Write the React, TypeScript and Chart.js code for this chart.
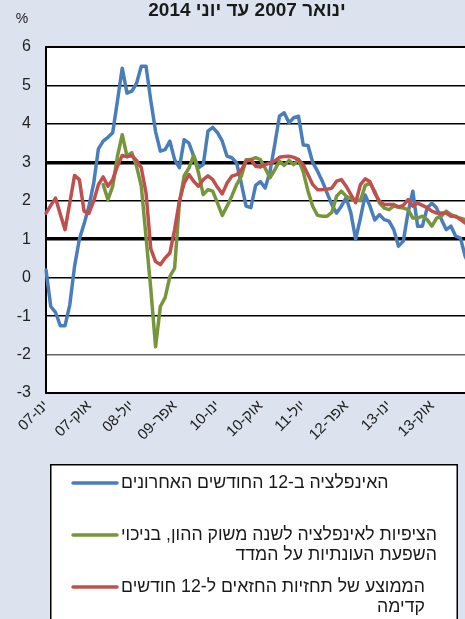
import React, { useEffect, useRef } from "react";
import { Chart, registerables } from "chart.js";

Chart.register(...registerables);

const MONTHS = ["ינו", "פבר", "מרץ", "אפר", "מאי", "יונ", "יול", "אוג", "ספט", "אוק", "נוב", "דצמ"];
const YEARS = ["07", "08", "09", "10", "11", "12", "13", "14"];
const categories: string[] = [];
YEARS.forEach((y) => MONTHS.forEach((m) => categories.push(`${m}-${y}`)));
categories.length = 90; // ינואר 2007 .. יוני 2014

const TITLE = "ינואר 2007 עד יוני 2014";
const UNIT = "%";

const Y_TICKS = [-3, -2, -1, 0, 1, 2, 3, 4, 5, 6];

// 12-month inflation
const inflation: number[] = [
  0.2, -0.75, -0.9, -1.25, -1.25, -0.7, 0.3, 1.0, 1.4, 1.85,
  2.45, 3.35, 3.55, 3.65, 3.77, 4.6, 5.45, 4.8, 4.85, 5.05,
  5.5, 5.5, 4.6, 3.8, 3.29, 3.33, 3.55, 3.07, 2.86, 3.59,
  3.5, 3.16, 2.86, 2.94, 3.81, 3.91, 3.77, 3.55, 3.16, 3.12,
  2.99, 2.45, 1.86, 1.82, 2.4, 2.5, 2.33, 2.75, 3.45, 4.2,
  4.29, 4.03, 4.16, 4.2, 3.45, 3.44, 2.99, 2.77, 2.51, 2.2,
  1.9, 1.68, 1.86, 2.08, 1.68, 1.0, 1.55, 2.15, 1.86, 1.5,
  1.64, 1.51, 1.47, 1.25, 0.82, 0.95, 1.7, 2.25, 1.34, 1.34,
  1.81, 1.94, 1.81, 1.51, 1.25, 1.34, 1.08, 1.03, 0.55, 0.3,
];

// capital-market expectations (seasonally adjusted)
const marketExp: (number | null)[] = [
  null, null, null, null, null, null, null, null, null, null,
  null, null, 2.42, 2.03, 2.38, 3.16, 3.72, 3.16, 3.25, 2.9,
  2.38, 1.05, -0.3, -1.8, -0.75, -0.52, 0.03, 0.25, 1.95, 2.65,
  2.85, 3.18, 2.73, 2.16, 2.29, 2.25, 1.94, 1.62, 1.86, 2.12,
  2.42, 2.64, 3.07, 3.07, 3.12, 3.07, 2.85, 2.6, 2.8, 3.03,
  2.92, 3.05, 2.94, 3.07, 2.75, 2.25, 1.85, 1.62, 1.6, 1.6,
  1.7, 2.12, 2.25, 2.12, 2.05, 2.02, 2.0, 2.4, 2.46, 2.25,
  1.94, 1.81, 1.77, 1.86, 1.83, 1.81, 1.77, 1.55, 1.55, 1.6,
  1.51, 1.34, 1.55, 1.6, 1.73, 1.64, 1.58, 1.55, 1.51, 1.45,
];

// forecasters' average, 12 months ahead
const forecasters: number[] = [
  1.68, 1.88, 2.07, 1.65, 1.25, 1.95, 2.66, 2.55, 1.73, 1.67,
  1.99, 2.42, 2.62, 2.38, 2.55, 2.9, 3.18, 3.14, 3.18, 3.05,
  2.86, 2.2, 0.75, 0.42, 0.34, 0.51, 0.64, 1.25, 1.99, 2.46,
  2.68, 2.51, 2.38, 2.55, 2.65, 2.55, 2.35, 2.18, 2.46, 2.64,
  2.68, 2.8, 3.03, 3.07, 2.9, 2.88, 2.94, 2.98, 3.03, 3.13,
  3.15, 3.16, 3.13, 3.07, 2.94, 2.68, 2.42, 2.29, 2.29, 2.3,
  2.33, 2.51, 2.55, 2.38, 2.16, 1.95, 2.42, 2.57, 2.5, 2.2,
  1.99, 1.9, 1.9, 1.9, 1.84, 1.88, 2.03, 1.86, 1.94, 1.88,
  1.82, 1.73, 1.68, 1.68, 1.68, 1.6, 1.6, 1.51, 1.42, 1.35,
];

const SERIES_NAMES: string[][] = [
  ["האינפלציה ב-12 החודשים האחרונים"],
  ["הציפיות לאינפלציה לשנה משוק ההון, בניכוי", "השפעת העונתיות על המדד"],
  ["הממוצע של תחזיות החזאים ל-12 חודשים", "קדימה"],
];

const BLUE = "#4a7ebb";
const GREEN = "#77963c";
const RED = "#c0504d";
const BG = "#dce3ef";
const FONT = '"Liberation Sans", "DejaVu Sans", Arial, sans-serif';

const decor = {
  id: "decor",
  beforeDraw(chart: any) {
    const { ctx, chartArea: a, width, height } = chart;
    ctx.save();
    ctx.fillStyle = BG;
    ctx.fillRect(0, 0, width, height);
    ctx.fillStyle = "#ffffff";
    ctx.fillRect(a.left, a.top, a.right - a.left, a.bottom - a.top);
    ctx.restore();
  },
  afterDraw(chart: any) {
    const { ctx } = chart;
    ctx.save();
    // title
    ctx.fillStyle = "#1a1a1a";
    ctx.direction = "rtl";
    ctx.textAlign = "center";
    ctx.textBaseline = "alphabetic";
    ctx.font = `bold 19px ${FONT}`;
    ctx.fillText(TITLE, 247, 16);
    // unit
    ctx.font = `14px ${FONT}`;
    ctx.fillStyle = "#222";
    ctx.direction = "ltr";
    ctx.fillText(UNIT, 22, 23);

    // legend box
    ctx.fillStyle = "#ffffff";
    ctx.fillRect(50, 464, 407, 200);
    ctx.strokeStyle = "#000";
    ctx.lineWidth = 1.5;
    ctx.strokeRect(50.75, 464.75, 406.5, 200);

    const colors = [BLUE, GREEN, RED];
    const ys = [483, 535, 587];
    ctx.font = `17.7px ${FONT}`;
    ctx.direction = "rtl";
    ctx.textAlign = "right";
    ctx.textBaseline = "middle";
    SERIES_NAMES.forEach((lines, k) => {
      const y = ys[k];
      ctx.strokeStyle = colors[k];
      ctx.lineWidth = 3.5;
      ctx.lineCap = "round";
      ctx.beginPath();
      ctx.moveTo(73, y);
      ctx.lineTo(117, y);
      ctx.stroke();
      const w = Math.max(...lines.map((l) => ctx.measureText(l).width));
      const right = 121 + w;
      ctx.fillStyle = "#1a1a1a";
      lines.forEach((l, j) => ctx.fillText(l, right, y + j * 20));
    });
    ctx.restore();
  },
};

export default function App() {
  const ref = useRef<HTMLCanvasElement | null>(null);
  useEffect(() => {
    if (!ref.current) return;
    const chart = new Chart(ref.current, {
      type: "line",
      data: {
        labels: categories,
        datasets: [
          { label: SERIES_NAMES[0].join(" "), data: inflation, borderColor: BLUE, order: 2 },
          { label: SERIES_NAMES[1].join(" "), data: marketExp, borderColor: GREEN, order: 1 },
          { label: SERIES_NAMES[2].join(" "), data: forecasters, borderColor: RED, order: 0 },
        ].map((d) => ({
          ...d,
          borderWidth: 3.5,
          pointRadius: 0,
          tension: 0,
          fill: false,
          spanGaps: false,
          borderJoinStyle: "round" as const,
          borderCapStyle: "round" as const,
        })),
      },
      options: {
        responsive: false,
        animation: false,
        devicePixelRatio: 1,
        layout: { padding: { top: 47, right: 2, left: 0, bottom: 0 } },
        plugins: {
          legend: { display: false },
          tooltip: { enabled: false },
          title: { display: false },
        },
        scales: {
          x: {
            type: "category",
            offset: false,
            grid: { display: false, drawTicks: false },
            border: { display: true, color: "#000", width: 2 },
            ticks: {
              autoSkip: false,
              maxRotation: 45,
              minRotation: 45,
              padding: 4,
              color: "#222",
              font: { family: FONT, size: 15 },
              callback: (_v: any, i: number) => (i % 9 === 0 ? categories[i] : ""),
            },
            afterFit: (s: any) => {
              s.height = 226;
              s.paddingLeft = 0;
              s.paddingRight = 0;
            },
          },
          y: {
            min: -3,
            max: 6,
            afterBuildTicks: (s: any) => {
              s.ticks = Y_TICKS.map((v) => ({ value: v }));
            },
            ticks: {
              padding: 15,
              color: "#222",
              font: { family: FONT, size: 16 },
            },
            grid: {
              drawTicks: false,
              color: (c: any) => (c.tick && c.tick.value === -2 ? "#666" : "#000"),
              lineWidth: (c: any) => {
                const v = c.tick ? c.tick.value : 0;
                if (v === 3 || v === 1) return 3.5;
                if (v === 6 || v === -3) return 2;
                return 1.5;
              },
            },
            border: { display: true, color: "#000", width: 2 },
            afterFit: (s: any) => {
              s.width = 46;
            },
          },
        },
      },
      plugins: [decor],
    });
    return () => chart.destroy();
  }, []);

  return (
    <div
      style={{
        position: "fixed",
        left: 0,
        top: 0,
        width: 465,
        height: 619,
        overflow: "hidden",
        background: BG,
      }}
    >
      <canvas ref={ref} width={472} height={619} style={{ display: "block" }} />
    </div>
  );
}
